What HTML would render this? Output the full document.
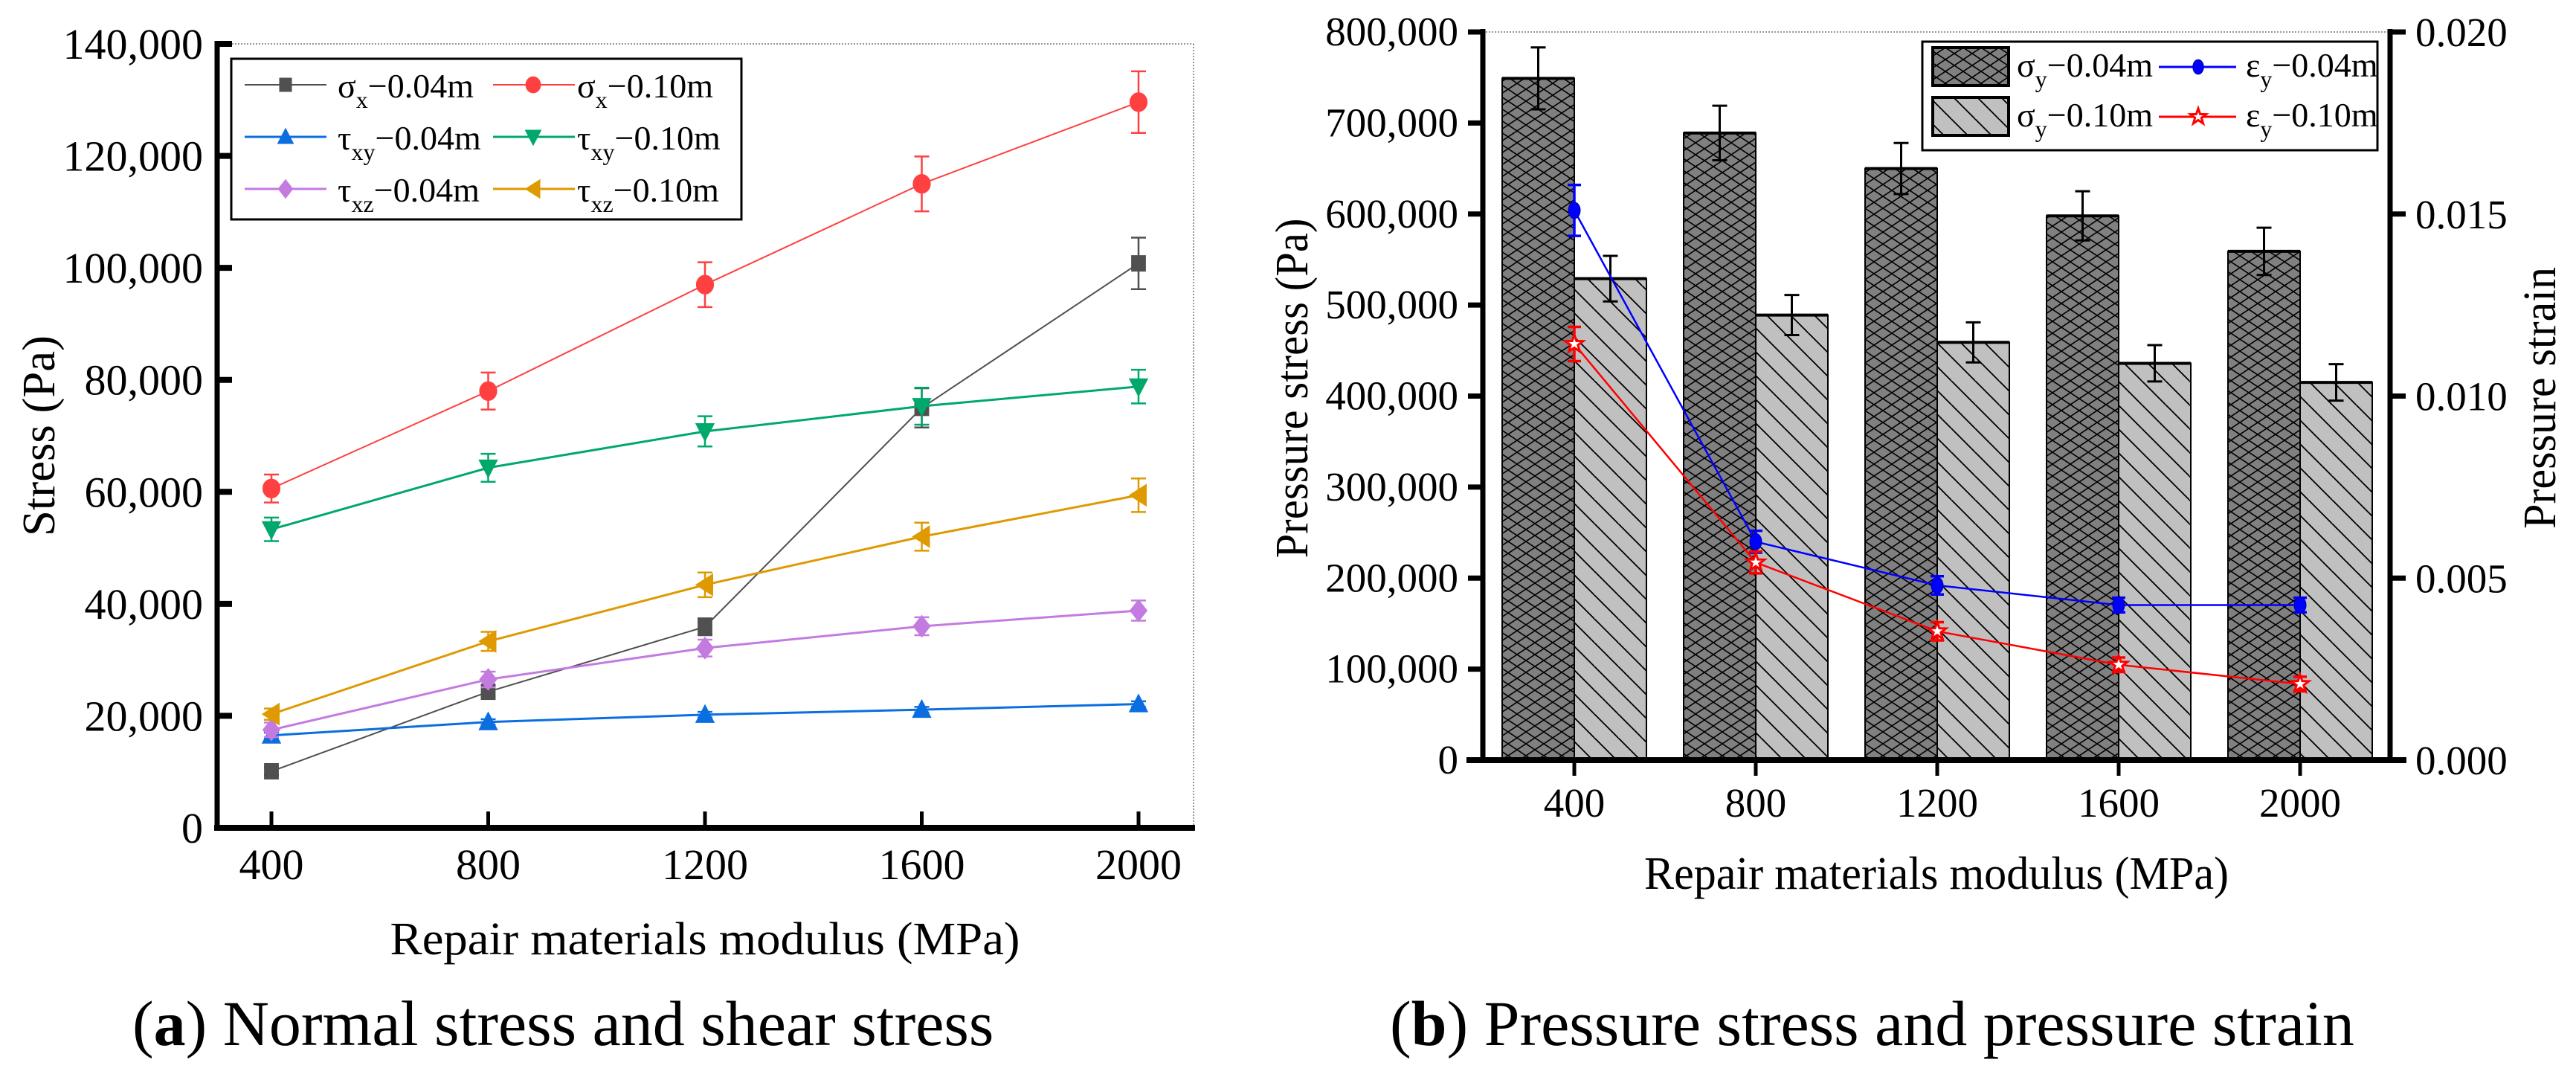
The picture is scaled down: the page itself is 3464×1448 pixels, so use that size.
<!DOCTYPE html>
<html><head><meta charset="utf-8"><style>
html,body{margin:0;padding:0;background:#fff;}
svg{display:block;font-family:"Liberation Serif","Times New Roman",serif;}
</style></head><body>
<svg id="fig" xmlns="http://www.w3.org/2000/svg" width="3464" height="1448" viewBox="0 0 3464 1448">
<defs>
<pattern id="cross" patternUnits="userSpaceOnUse" width="24" height="16"><rect width="24" height="16" fill="#808080"/><path d="M0,0 L24,16 M24,0 L0,16 M-12,8 L0,16 M12,-8 L36,8" stroke="#000" stroke-width="1.6" fill="none"/></pattern>
<pattern id="diag" patternUnits="userSpaceOnUse" width="32" height="32"><rect width="32" height="32" fill="#c0c0c0"/><path d="M0,0 L32,32 M-16,16 L0,32 M16,-16 L48,16" stroke="#000" stroke-width="1.8" fill="none"/></pattern>
</defs>
<g id="chartA"></g>
<g id="chartB"></g>
<text x="178" y="1405" font-size="86"><tspan>(</tspan><tspan font-weight="bold">a</tspan><tspan>) Normal stress and shear stress</tspan></text>
<text x="1869" y="1405" font-size="86"><tspan>(</tspan><tspan font-weight="bold">b</tspan><tspan>) Pressure stress and pressure strain</tspan></text>
</svg>
<script>
// ---------- Chart A data ----------
const catsA = [400, 800, 1200, 1600, 2000];
const sx04 = [10100, 24300, 35900, 75000, 100800];
const sx04Err = [700, 1000, 1500, 3500, 4600];
const sx10 = [60600, 78000, 97000, 115000, 129600];
const sx10Err = [2500, 3300, 4000, 4900, 5500];
const txy04 = [16500, 18900, 20200, 21100, 22100];
const txy04Err = [500, 500, 500, 500, 500];
const txy10 = [53300, 64300, 70800, 75300, 78800];
const txy10Err = [2100, 2500, 2700, 3300, 3000];
const txz04 = [17500, 26500, 32100, 36000, 38800];
const txz04Err = [1300, 1400, 1500, 1600, 1800];
const txz10 = [20300, 33300, 43400, 52000, 59400];
const txz10Err = [1000, 1700, 2200, 2500, 3000];
const yTicksA = [0, 20000, 40000, 60000, 80000, 100000, 120000, 140000];
const yTickLabelsA = ["0","20,000","40,000","60,000","80,000","100,000","120,000","140,000"];
// ---------- Chart B data ----------
const catsB = [400, 800, 1200, 1600, 2000];
const sy04 = [749000, 689000, 650000, 598000, 559000];
const sy04Err = [34000, 30000, 28000, 27000, 26000];
const sy10 = [529000, 489000, 459000, 436000, 415000];
const sy10Err = [25000, 22000, 22000, 20000, 20000];
const ey04 = [0.0151, 0.0060, 0.0048, 0.00426, 0.00426];
const ey04Err = [0.0007, 0.0003, 0.00025, 0.0002, 0.0002];
const ey10 = [0.01143, 0.00543, 0.00354, 0.00262, 0.00209];
const ey10Err = [0.00047, 0.0003, 0.00025, 0.0002, 0.0002];
const yTicksB = [0,100000,200000,300000,400000,500000,600000,700000,800000];
const yTickLabelsB = ["0","100,000","200,000","300,000","400,000","500,000","600,000","700,000","800,000"];
const y2TicksB = [0, 0.005, 0.010, 0.015, 0.020];
const y2TickLabelsB = ["0.000","0.005","0.010","0.015","0.020"];

const NS = "http://www.w3.org/2000/svg";
function mk(tag, attrs, parent){ const e=document.createElementNS(NS,tag); for(const k in attrs) e.setAttribute(k,attrs[k]); parent.appendChild(e); return e; }

const xA = v => 365 + (v-400)*291.5/400;
const yA = v => 1113 - v*1054/140000;
const xB = v => 2117 + (v-400)*244/400;
const yB = v => 1022 - v*979/800000;
const yB2 = v => 1022 - v*979/0.02;

const A = document.getElementById('chartA');
const B = document.getElementById('chartB');

let el;
el = mk('line',{x1:292,y1:59,x2:1605,y2:59,stroke:'#777','stroke-width':1.5,'stroke-dasharray':'2,2'},A);


el = mk('line',{x1:1605,y1:59,x2:1605,y2:1113,stroke:'#777','stroke-width':1.5,'stroke-dasharray':'2,2'},A);



function marker(g, type, cx, cy, color, s){
  let e;
  if(type==='square') e = mk('rect',{x:cx-s*0.45,y:cy-s*0.5,width:s*0.9,height:s,fill:color},g);
  else if(type==='circle') e = mk('ellipse',{cx:cx,cy:cy,rx:s*0.55,ry:s*0.6,fill:color},g);
  else if(type==='up') e = mk('polygon',{points:`${cx},${cy-s*0.65} ${cx+s*0.6},${cy+s*0.5} ${cx-s*0.6},${cy+s*0.5}`,fill:color},g);
  else if(type==='down') e = mk('polygon',{points:`${cx},${cy+s*0.65} ${cx+s*0.6},${cy-s*0.5} ${cx-s*0.6},${cy-s*0.5}`,fill:color},g);
  else if(type==='diamond') e = mk('polygon',{points:`${cx},${cy-s*0.7} ${cx+s*0.55},${cy} ${cx},${cy+s*0.7} ${cx-s*0.55},${cy}`,fill:color},g);
  else if(type==='left') e = mk('polygon',{points:`${cx-s*0.6},${cy} ${cx+s*0.5},${cy-s*0.7} ${cx+s*0.5},${cy+s*0.7}`,fill:color},g);
  else if(type==='ball') e = mk('ellipse',{cx:cx,cy:cy,rx:s*0.4,ry:s*0.55,fill:color,stroke:'#0000aa','stroke-width':1},g);
  else if(type==='star'){
    let p=[]; for(let i=0;i<10;i++){const r=i%2?s*0.25:s*0.62; const a=-Math.PI/2+i*Math.PI/5; p.push((cx+r*Math.cos(a)).toFixed(1)+','+(cy+r*Math.sin(a)).toFixed(1));}
    e = mk('polygon',{points:p.join(' '),fill:'#fff',stroke:color,'stroke-width':3},g);
  }
  return e;
}

const seriesA = [
  {name:'sigma-x-0.04m', vals:sx04, err:sx04Err, color:'#505050', m:'square', w:2},
  {name:'sigma-x-0.10m', vals:sx10, err:sx10Err, color:'#ff4040', m:'circle', w:2},
  {name:'tau-xy-0.04m', vals:txy04, err:txy04Err, color:'#0b6ee0', m:'up', w:3},
  {name:'tau-xy-0.10m', vals:txy10, err:txy10Err, color:'#00a86b', m:'down', w:3},
  {name:'tau-xz-0.04m', vals:txz04, err:txz04Err, color:'#c47be0', m:'diamond', w:3},
  {name:'tau-xz-0.10m', vals:txz10, err:txz10Err, color:'#de9a00', m:'left', w:3},
];
seriesA.forEach(s=>{
  const g = mk('g',{},A);
  
  
  const pts = s.vals.map((v,i)=>xA(catsA[i]).toFixed(1)+','+yA(v).toFixed(1)).join(' ');
  const pl = mk('polyline',{points:pts,fill:'none',stroke:s.color,'stroke-width':s.w},g);
  
  
  s.vals.forEach((v,i)=>{
    const x=xA(catsA[i]), y1=yA(v+s.err[i]), y2=yA(v-s.err[i]);
    const eb = mk('path',{d:`M${x},${y1} L${x},${y2} M${x-10},${y1} L${x+10},${y1} M${x-10},${y2} L${x+10},${y2}`,stroke:s.color,'stroke-width':2.5,fill:'none'},g);
    
    
    const mkr = marker(g, s.m, x, yA(v), s.color, 22);
    
    
  });
});

el = mk('line',{x1:292,y1:55,x2:292,y2:1117,stroke:'#000','stroke-width':7},A);


el = mk('line',{x1:288,y1:1113,x2:1607,y2:1113,stroke:'#000','stroke-width':8},A);


yTicksA.forEach((v,i)=>{
  const y=yA(v);
  const t = mk('line',{x1:292,y1:y,x2:312,y2:y,stroke:'#000','stroke-width':8},A);
  
  
  const lb = mk('text',{x:273,y:y+20,'font-size':58,'text-anchor':'end'},A);
  lb.textContent = yTickLabelsA[i];
  
  
});
catsA.forEach(c=>{
  const x=xA(c);
  const t = mk('line',{x1:x,y1:1113,x2:x,y2:1091,stroke:'#000','stroke-width':5},A);
  
  
  const lb = mk('text',{x:x,y:1182,'font-size':58,'text-anchor':'middle'},A);
  lb.textContent = String(c);
  
  
});
el = mk('text',{x:948,y:1283,'font-size':62,'text-anchor':'middle',textLength:847,lengthAdjust:'spacingAndGlyphs'},A);
el.textContent='Repair materials modulus (MPa)';


el = mk('text',{x:0,y:0,'font-size':62,'text-anchor':'middle',transform:'translate(73,586) rotate(-90)',textLength:270,lengthAdjust:'spacingAndGlyphs'},A);
el.textContent='Stress (Pa)';



const legA = mk('g',{},A);


el = mk('rect',{x:311,y:79,width:686,height:216,fill:'#fff',stroke:'#000','stroke-width':3},legA);


const legLabA = [['σ','x','−0.04m'],['σ','x','−0.10m'],['τ','xy','−0.04m'],['τ','xy','−0.10m'],['τ','xz','−0.04m'],['τ','xz','−0.10m']];
seriesA.forEach((s,i)=>{
  const col=i%2, row=Math.floor(i/2);
  const y=[114,184,254][row];
  const x0 = col? 663:329, xm = col?717:384, xt = col?776:454;
  const ge = mk('g',{},legA);
  
  
  mk('line',{x1:x0,y1:y,x2:x0+110,y2:y,stroke:s.color,'stroke-width':s.w},ge);
  marker(ge,s.m,xm,y,s.color,19);
  const t = mk('text',{x:xt,y:y+17,'font-size':46},ge);
  const a = mk('tspan',{},t); a.textContent=legLabA[i][0];
  const b = mk('tspan',{'font-size':32,dy:14},t); b.textContent=legLabA[i][1];
  const c = mk('tspan',{dy:-14},t); c.textContent=legLabA[i][2];
});

// ===== Chart B =====
el = mk('line',{x1:1994,y1:43,x2:3214,y2:43,stroke:'#777','stroke-width':1.5,'stroke-dasharray':'2,2'},B);


const barW = 97;
catsB.forEach((c,i)=>{
  const x=xB(c);
  let r = mk('rect',{x:x-barW,y:yB(sy04[i]),width:barW,height:yB(0)-yB(sy04[i]),fill:'url(#cross)',stroke:'#000','stroke-width':2},B);
  
  
  mk('line',{x1:x-barW,y1:yB(sy04[i]),x2:x,y2:yB(sy04[i]),stroke:'#000','stroke-width':4},B);
  r = mk('rect',{x:x,y:yB(sy10[i]),width:barW,height:yB(0)-yB(sy10[i]),fill:'url(#diag)',stroke:'#000','stroke-width':2},B);
  
  
  mk('line',{x1:x,y1:yB(sy10[i]),x2:x+barW,y2:yB(sy10[i]),stroke:'#000','stroke-width':4},B);
  [[x-barW/2,sy04[i],sy04Err[i],'0.04m'],[x+barW/2,sy10[i],sy10Err[i],'0.10m']].forEach(d=>{
    const y1=yB(d[1]+d[2]), y2=yB(d[1]-d[2]);
    const eb = mk('path',{d:`M${d[0]},${y1} L${d[0]},${y2} M${d[0]-10},${y1} L${d[0]+10},${y1} M${d[0]-10},${y2} L${d[0]+10},${y2}`,stroke:'#000','stroke-width':3,fill:'none'},B);
    
    
  });
});
const seriesB = [
  {name:'epsilon-y-0.04m', vals:ey04, err:ey04Err, color:'#0000ff', m:'ball'},
  {name:'epsilon-y-0.10m', vals:ey10, err:ey10Err, color:'#ff0000', m:'star'},
];
seriesB.forEach(s=>{
  const g = mk('g',{},B);
  
  
  const pts = s.vals.map((v,i)=>xB(catsB[i]).toFixed(1)+','+yB2(v).toFixed(1)).join(' ');
  const pl = mk('polyline',{points:pts,fill:'none',stroke:s.color,'stroke-width':2.5},g);
  
  
  s.vals.forEach((v,i)=>{
    const x=xB(catsB[i]), y1=yB2(v+s.err[i]), y2=yB2(v-s.err[i]);
    const eb = mk('path',{d:`M${x},${y1} L${x},${y2} M${x-9},${y1} L${x+9},${y1} M${x-9},${y2} L${x+9},${y2}`,stroke:s.color,'stroke-width':3.5,fill:'none'},g);
    
    
    const mkr = marker(g,s.m,x,yB2(v),s.color,20);
    
    
  });
});
el = mk('line',{x1:1994,y1:39,x2:1994,y2:1026,stroke:'#000','stroke-width':7},B);


el = mk('line',{x1:3214,y1:39,x2:3214,y2:1026,stroke:'#000','stroke-width':7},B);


el = mk('line',{x1:1972,y1:1022,x2:3236,y2:1022,stroke:'#000','stroke-width':8},B);


yTicksB.forEach((v,i)=>{
  const y=yB(v);
  const t = mk('line',{x1:1974,y1:y,x2:1994,y2:y,stroke:'#000','stroke-width':7},B);
  
  
  const lb = mk('text',{x:1961,y:y+18,'font-size':55,'text-anchor':'end'},B);
  lb.textContent=yTickLabelsB[i];
  
  
});
y2TicksB.forEach((v,i)=>{
  const y=yB2(v);
  const t = mk('line',{x1:3214,y1:y,x2:3235,y2:y,stroke:'#000','stroke-width':7},B);
  
  
  const lb = mk('text',{x:3248,y:y+19,'font-size':55},B);
  lb.textContent=y2TickLabelsB[i];
  
  
});
catsB.forEach(c=>{
  const x=xB(c);
  const t = mk('line',{x1:x,y1:1022,x2:x,y2:1043,stroke:'#000','stroke-width':5},B);
  
  
  const lb = mk('text',{x:x,y:1098,'font-size':55,'text-anchor':'middle'},B);
  lb.textContent=String(c);
  
  
});
el = mk('text',{x:2604,y:1195,'font-size':62,'text-anchor':'middle',textLength:786,lengthAdjust:'spacingAndGlyphs'},B);
el.textContent='Repair materials modulus (MPa)';


el = mk('text',{x:0,y:0,'font-size':62,'text-anchor':'middle',transform:'translate(1758,522) rotate(-90)',textLength:457,lengthAdjust:'spacingAndGlyphs'},B);
el.textContent='Pressure stress (Pa)';


el = mk('text',{x:0,y:0,'font-size':62,'text-anchor':'middle',transform:'translate(3436,535) rotate(-90)',textLength:352,lengthAdjust:'spacingAndGlyphs'},B);
el.textContent='Pressure strain';



const legB = mk('g',{},B);


el = mk('rect',{x:2585,y:56,width:612,height:146,fill:'#fff',stroke:'#000','stroke-width':3},legB);


[['url(#cross)',64,'−0.04m'],['url(#diag)',131,'−0.10m']].forEach((d,i)=>{
  const ge = mk('g',{},legB);
  
  
  mk('rect',{x:2599,y:d[1],width:102,height:51,fill:d[0],stroke:'#000','stroke-width':4},ge);
  const t = mk('text',{x:2712,y:d[1]+39,'font-size':46},ge);
  const a=mk('tspan',{},t); a.textContent='σ';
  const b=mk('tspan',{'font-size':32,dy:14},t); b.textContent='y';
  const c=mk('tspan',{dy:-14},t); c.textContent=d[2];
});
seriesB.forEach((s,i)=>{
  const y = i?157:90;
  const ge = mk('g',{},legB);
  
  
  mk('line',{x1:2903,y1:y,x2:3007,y2:y,stroke:s.color,'stroke-width':3},ge);
  marker(ge,s.m,2956,y,s.color,18);
  const t = mk('text',{x:3020,y:y+13,'font-size':46},ge);
  const a=mk('tspan',{},t); a.textContent='ε';
  const b=mk('tspan',{'font-size':32,dy:14},t); b.textContent='y';
  const c=mk('tspan',{dy:-14},t); c.textContent=i?'−0.10m':'−0.04m';
});
</script>
</body></html>
